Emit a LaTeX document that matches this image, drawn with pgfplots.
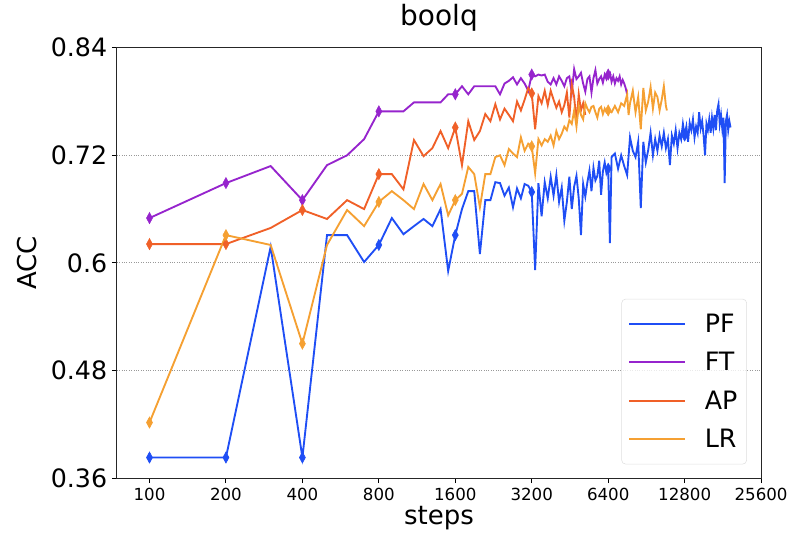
\documentclass[border=0pt]{standalone}
\usepackage{pgfplots}
\pgfplotsset{compat=1.18}
\usepackage{fontspec}
\setmainfont{DejaVu Sans}
\definecolor{cPF}{RGB}{31,78,245}
\definecolor{cFT}{RGB}{150,36,205}
\definecolor{cAP}{RGB}{240,96,40}
\definecolor{cLR}{RGB}{245,160,50}
\pgfplotsset{
  ln/.style={line width=1.4pt, mark=none},
  mk/.style={only marks, mark=diamond*, mark size=4.2pt, mark options={xscale=0.72, solid}, forget plot},
}
\begin{document}
\begin{tikzpicture}
\begin{axis}[
  scale only axis, width=483.75pt, height=323.25pt,
  xmode=log, log basis x=2,
  xmin=74.4, xmax=25600, ymin=0.36, ymax=0.84,
  xtick={100,200,400,800,1600,3200,6400,12800,25600},
  xticklabels={100,200,400,800,1600,3200,6400,12800,25600},
  ytick={0.36,0.48,0.6,0.72,0.84},
  yticklabels={0.36,0.48,0.6,0.72,0.84},
  minor xtick={}, 
  xtick pos=bottom, ytick pos=left,
  tick align=outside, major tick length=3.75pt,
  tick style={black, line width=0.7pt},
  axis line style={line width=0.8pt, black!85},
  ymajorgrids, major grid style={gray!80, line width=0.7pt, dash pattern=on 0.7pt off 1.1pt},
  /pgf/number format/assume math mode=true,
  xticklabel style={font=\fontsize{12.5}{14}\selectfont},
  yticklabel style={font=\fontsize{19}{22}\selectfont},
  title={boolq},
  title style={font=\fontsize{21}{24}\selectfont, at={(axis description cs:0.5,1.0325)}, anchor=base},
  xlabel={steps},
  xlabel style={font=\fontsize{19.5}{23}\selectfont, at={(axis description cs:0.5,-0.1067)}, anchor=base},
  ylabel={ACC},
  ylabel style={font=\fontsize{19.5}{23}\selectfont, at={(axis description cs:-0.124,0.5)}, rotate=0, anchor=base},
  legend style={at={(axis description cs:0.978,0.032)}, anchor=south east,
    draw=gray!25, rounded corners=3pt, fill=white, fill opacity=0.8, text opacity=1,
    font=\fontsize{19}{22}\selectfont, row sep=9.5pt, inner xsep=5pt, inner ysep=9pt,
    /tikz/every odd column/.append style={column sep=12pt}},
  legend cell align=left,
  legend image code/.code={\draw[#1, line width=1.4pt] (0pt,0pt) -- (42pt,0pt);},
]
% PF
\addplot[cPF, ln] coordinates {
(100,0.383)(200,0.383)(300,0.618)(400,0.383)(500,0.631)(600,0.631)(700,0.601)(800,0.620)
(900,0.650)(1000,0.632)(1100,0.641)(1200,0.649)(1300,0.641)(1400,0.660)(1500,0.591)(1600,0.631)
(1700,0.660)(1800,0.680)(1900,0.680)(2000,0.610)(2100,0.670)(2200,0.670)(2300,0.690)
(2400,0.689)(2500,0.675)(2600,0.684)(2700,0.662)(2800,0.683)(2900,0.672)(3000,0.688)(3100,0.686)
(3200,0.679)(3300,0.592)(3400,0.689)(3500,0.652)(3600,0.690)(3700,0.672)(3800,0.696)(3900,0.675)
(4000,0.698)(4100,0.668)(4200,0.684)(4300,0.647)(4400,0.668)(4500,0.696)(4600,0.660)(4700,0.685)
(4800,0.697)(4900,0.672)(5000,0.631)(5100,0.688)(5200,0.674)(5300,0.690)(5400,0.703)(5500,0.680)
(5600,0.706)(5700,0.692)(5800,0.697)(5900,0.714)(6000,0.676)(6100,0.702)(6200,0.712)(6300,0.700)
(6400,0.705)(6500,0.622)(6600,0.718)(6800,0.722)(7000,0.705)(7200,0.720)(7400,0.708)(7600,0.698)
(7800,0.740)(8000,0.725)(8200,0.718)(8400,0.735)(8600,0.661)(8800,0.735)(9000,0.712)(9200,0.726)
(9400,0.745)(9600,0.720)(9800,0.738)(10000,0.725)(10200,0.742)(10400,0.730)(10600,0.745)(10800,0.728)
(11000,0.738)(11200,0.709)(11400,0.742)(11600,0.733)(11800,0.748)(12000,0.728)(12200,0.745)(12400,0.738)
(12600,0.755)(12800,0.742)(13000,0.752)(13200,0.735)(13400,0.756)(13600,0.748)(13800,0.760)(14000,0.740)
(14200,0.752)(14400,0.745)(14600,0.768)(14800,0.750)(15000,0.758)(15200,0.742)(15400,0.720)(15600,0.755)
(15800,0.748)(16000,0.760)(16200,0.745)(16400,0.762)(16600,0.750)(16800,0.765)(17000,0.748)(17200,0.770)
(17400,0.777)(17600,0.755)(17800,0.765)(18000,0.750)(18200,0.762)(18400,0.689)(18600,0.758)(18800,0.765)
(19000,0.748)(19200,0.758)(19400,0.751)
};
\addlegendentry{PF}
\addplot[cPF, mk] coordinates {
(100,0.383)(200,0.383)(400,0.383)(800,0.620)(1600,0.631)(3200,0.679)(6400,0.705)(12800,0.742)
};
% FT
\addplot[cFT, ln] coordinates {
(100,0.650)(200,0.689)(300,0.708)(400,0.670)(500,0.709)(600,0.720)(700,0.738)(800,0.769)
(900,0.769)(1000,0.769)(1100,0.779)(1200,0.779)(1300,0.779)(1400,0.779)(1500,0.788)(1600,0.788)
(1700,0.797)(1800,0.788)(1900,0.797)(2000,0.797)(2100,0.797)(2200,0.797)(2300,0.797)(2400,0.788)
(2500,0.800)(2600,0.803)(2700,0.807)(2800,0.799)(2900,0.806)(3000,0.800)(3100,0.792)(3200,0.810)
(3300,0.808)(3400,0.810)(3500,0.809)(3600,0.810)(3700,0.802)(3800,0.799)(3900,0.806)(4000,0.799)
(4100,0.808)(4200,0.803)(4300,0.797)(4400,0.806)(4500,0.808)(4600,0.790)(4700,0.816)(4800,0.805)
(4900,0.808)(5000,0.812)(5100,0.800)(5200,0.791)(5300,0.805)(5400,0.808)(5500,0.790)(5600,0.806)
(5700,0.815)(5800,0.800)(5900,0.805)(6000,0.808)(6100,0.801)(6200,0.810)(6300,0.805)(6400,0.810)
(6500,0.812)(6600,0.802)(6700,0.808)(6800,0.800)(6900,0.806)(7000,0.803)(7100,0.808)(7200,0.799)
(7300,0.804)(7400,0.800)(7500,0.795)(7600,0.788)
};
\addlegendentry{FT}
\addplot[cFT, mk] coordinates {
(100,0.650)(200,0.689)(400,0.670)(800,0.769)(1600,0.788)(3200,0.810)(6400,0.810)
};
% AP
\addplot[cAP, ln] coordinates {
(100,0.621)(200,0.621)(300,0.639)(400,0.659)(500,0.649)(600,0.670)(700,0.660)(800,0.699)
(900,0.699)(1000,0.682)(1100,0.737)(1200,0.719)(1300,0.728)(1400,0.747)(1500,0.728)(1600,0.751)
(1700,0.709)(1800,0.758)(1900,0.737)(2000,0.747)(2100,0.766)(2200,0.758)(2300,0.777)(2400,0.760)
(2500,0.772)(2600,0.765)(2700,0.758)(2800,0.780)(2900,0.770)(3000,0.782)(3100,0.795)(3200,0.789)
(3300,0.749)(3400,0.786)(3500,0.778)(3600,0.792)(3700,0.776)(3800,0.792)(3900,0.782)(4000,0.773)
(4100,0.780)(4200,0.768)(4300,0.776)(4400,0.790)(4500,0.762)(4600,0.799)(4700,0.785)(4800,0.757)
(4900,0.788)(5000,0.770)(5100,0.778)(5200,0.765)
};
\addlegendentry{AP}
\addplot[cAP, mk] coordinates {
(100,0.621)(200,0.621)(400,0.659)(800,0.699)(1600,0.751)(3200,0.789)
};
% LR
\addplot[cLR, ln] coordinates {
(100,0.422)(200,0.631)(300,0.620)(400,0.510)(500,0.620)(600,0.659)(700,0.641)(800,0.668)
(900,0.680)(1000,0.670)(1100,0.660)(1200,0.688)(1300,0.670)(1400,0.688)(1500,0.653)(1600,0.670)
(1700,0.677)(1800,0.707)(1900,0.699)(2000,0.662)(2100,0.699)(2200,0.699)(2300,0.718)(2400,0.720)
(2500,0.709)(2600,0.727)(2700,0.722)(2800,0.718)(2900,0.740)(3000,0.725)(3100,0.733)(3200,0.730)
(3300,0.700)(3400,0.738)(3500,0.731)(3600,0.738)(3700,0.735)(3800,0.742)(3900,0.731)(4000,0.747)
(4100,0.738)(4200,0.744)(4300,0.752)(4400,0.748)(4500,0.759)(4600,0.755)(4700,0.770)(4800,0.752)
(4900,0.775)(5000,0.765)(5100,0.760)(5200,0.778)(5300,0.772)(5400,0.768)(5500,0.774)(5600,0.775)
(5700,0.768)(5800,0.762)(5900,0.772)(6000,0.774)(6100,0.766)(6200,0.772)(6300,0.768)(6400,0.770)
(6600,0.768)(6800,0.775)(7000,0.768)(7200,0.778)(7400,0.775)(7600,0.788)(7700,0.765)(7800,0.778)
(8000,0.792)(8200,0.768)(8400,0.785)(8600,0.749)(8800,0.795)(9000,0.770)(9200,0.780)(9400,0.796)
(9600,0.772)(9800,0.790)(10000,0.785)(10200,0.770)(10400,0.782)(10600,0.797)(10800,0.775)(10900,0.770)
};
\addlegendentry{LR}
\addplot[cLR, mk] coordinates {
(100,0.422)(200,0.631)(400,0.510)(800,0.668)(1600,0.670)(3200,0.730)(6400,0.770)
};
\end{axis}
\path ([xshift=-87.75pt, yshift=-43.5pt]current axis.south west) rectangle ([xshift=22.5pt, yshift=35.25pt]current axis.north east);
\end{tikzpicture}
\end{document}
